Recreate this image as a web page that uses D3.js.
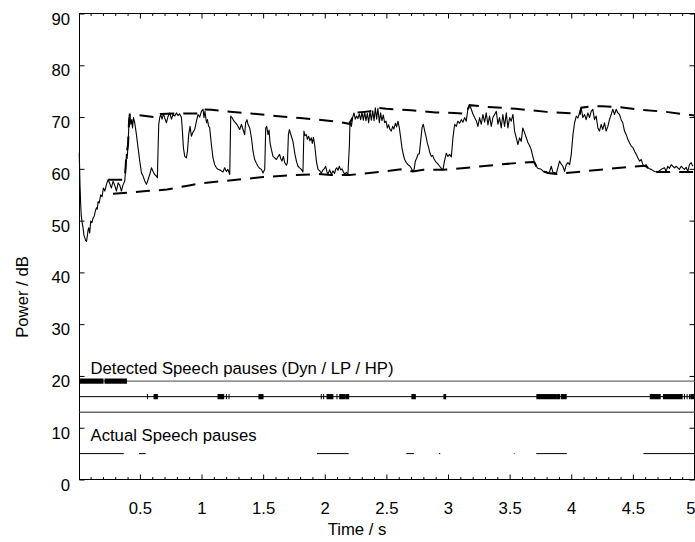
<!DOCTYPE html>
<html>
<head>
<meta charset="utf-8">
<script src="https://cdn.jsdelivr.net/npm/d3@7/dist/d3.min.js"></script>
<style>
  html, body { margin: 0; padding: 0; background: #fff; }
  svg { display: block; font-family: "Liberation Sans", Arial, Helvetica, sans-serif; }
</style>
</head>
<body>
<svg id="chart" width="695" height="542"></svg>
<script>
// Short-time signal power [time s, power dB]
const power = [
  [0.008,63.1],[0.014,57.0],[0.019,53.5],[0.024,51.0],[0.032,49.5],[0.039,48.6],[0.046,47.2],[0.053,46.7],
  [0.059,46.2],[0.067,46.0],[0.075,47.3],[0.080,48.2],[0.085,48.6],[0.093,47.6],[0.101,49.9],[0.111,49.6],
  [0.120,50.5],[0.130,50.9],[0.138,51.8],[0.148,52.5],[0.154,52.2],[0.161,53.7],[0.170,53.4],[0.182,55.0],
  [0.193,54.6],[0.204,56.3],[0.215,55.7],[0.229,57.0],[0.242,57.9],[0.255,57.2],[0.269,56.3],[0.282,57.6],
  [0.296,56.8],[0.310,55.7],[0.323,57.3],[0.337,56.8],[0.350,55.7],[0.363,56.9],[0.377,57.6],[0.383,59.5],
  [0.391,62.8],[0.397,62.0],[0.404,64.7],[0.412,69.2],[0.418,70.5],[0.426,68.6],[0.434,69.5],[0.440,67.9],
  [0.448,69.9],[0.458,68.9],[0.472,66.6],[0.485,64.1],[0.499,61.5],[0.513,59.2],[0.526,58.6],[0.539,57.7],
  [0.553,57.0],[0.566,57.9],[0.580,58.9],[0.594,60.2],[0.607,59.5],[0.620,58.9],[0.634,58.6],[0.642,58.3],
  [0.647,63.4],[0.653,68.6],[0.661,69.9],[0.669,70.5],[0.680,69.6],[0.691,70.6],[0.702,69.8],[0.715,68.9],
  [0.728,70.1],[0.742,70.8],[0.756,69.6],[0.769,70.5],[0.783,70.2],[0.796,70.8],[0.809,70.3],[0.823,70.6],
  [0.837,69.9],[0.845,67.3],[0.853,64.1],[0.864,62.4],[0.877,62.1],[0.886,63.4],[0.896,66.6],[0.907,68.2],
  [0.918,66.3],[0.931,67.1],[0.945,67.6],[0.959,69.2],[0.972,70.5],[0.985,70.0],[0.999,71.1],[1.012,71.5],
  [1.020,69.9],[1.028,71.1],[1.040,68.9],[1.048,69.5],[1.058,68.2],[1.066,68.0],[1.080,64.7],[1.093,62.1],
  [1.107,60.8],[1.121,60.2],[1.134,59.9],[1.156,59.7],[1.174,59.4],[1.188,60.2],[1.202,59.5],[1.214,59.9],
  [1.229,58.9],[1.237,70.2],[1.247,69.9],[1.261,69.3],[1.283,68.7],[1.296,68.2],[1.310,67.6],[1.324,68.6],
  [1.337,67.6],[1.350,66.6],[1.358,68.9],[1.369,69.5],[1.377,68.6],[1.391,67.9],[1.405,66.0],[1.418,63.4],
  [1.431,61.8],[1.445,61.1],[1.458,60.5],[1.472,60.1],[1.486,59.9],[1.499,59.2],[1.513,59.9],[1.521,67.9],
  [1.529,68.2],[1.540,66.6],[1.548,67.5],[1.556,65.0],[1.567,63.7],[1.580,62.4],[1.594,62.1],[1.607,61.8],
  [1.620,62.3],[1.634,62.8],[1.642,62.0],[1.653,61.5],[1.664,62.4],[1.675,61.2],[1.689,60.7],[1.697,61.2],
  [1.705,66.6],[1.713,67.6],[1.721,66.9],[1.729,66.3],[1.742,65.3],[1.756,63.1],[1.770,61.5],[1.783,60.5],
  [1.796,60.2],[1.810,59.9],[1.823,59.4],[1.831,67.3],[1.840,66.4],[1.851,66.6],[1.859,65.7],[1.869,66.3],
  [1.880,65.4],[1.891,66.0],[1.899,64.9],[1.908,66.1],[1.918,64.7],[1.932,61.5],[1.945,59.9],[1.959,59.6],
  [1.972,59.2],[1.986,59.8],[1.999,60.1],[2.007,60.5],[2.018,59.4],[2.026,59.0],[2.040,59.8],[2.054,58.9],
  [2.066,59.6],[2.080,59.1],[2.088,59.9],[2.097,60.2],[2.107,59.7],[2.118,60.5],[2.129,59.8],[2.140,60.0],
  [2.151,59.4],[2.161,59.0],[2.175,59.3],[2.188,58.9],[2.200,64.7],[2.205,69.2],[2.216,68.2],[2.226,69.9],
  [2.237,70.8],[2.248,69.6],[2.259,70.2],[2.269,69.7],[2.280,70.6],[2.291,69.5],[2.302,70.9],[2.313,69.4],
  [2.324,71.0],[2.334,69.3],[2.346,70.7],[2.356,68.9],[2.367,71.1],[2.378,69.4],[2.389,71.2],[2.400,69.3],
  [2.410,71.8],[2.421,69.6],[2.431,71.7],[2.443,68.9],[2.453,70.8],[2.464,69.3],[2.475,70.4],[2.486,68.9],
  [2.497,69.2],[2.508,67.9],[2.518,68.5],[2.529,67.6],[2.540,67.3],[2.551,68.2],[2.561,67.7],[2.573,68.8],
  [2.583,68.1],[2.594,69.2],[2.605,67.9],[2.616,66.0],[2.626,64.1],[2.637,62.8],[2.648,61.8],[2.662,61.2],
  [2.675,60.8],[2.689,60.6],[2.702,60.1],[2.716,59.5],[2.725,59.9],[2.735,61.5],[2.745,62.0],[2.756,62.8],
  [2.767,62.9],[2.778,65.3],[2.789,67.9],[2.800,68.6],[2.810,67.4],[2.821,66.3],[2.832,65.0],[2.843,64.1],
  [2.853,63.1],[2.865,62.4],[2.875,62.6],[2.887,61.9],[2.899,61.4],[2.916,61.0],[2.932,60.5],[2.946,60.1],
  [2.959,59.8],[2.972,61.6],[2.986,63.0],[2.999,62.4],[3.013,62.8],[3.027,62.3],[3.040,66.0],[3.054,68.6],
  [3.067,68.2],[3.080,69.2],[3.094,68.8],[3.108,69.5],[3.121,69.0],[3.135,69.9],[3.148,69.2],[3.161,71.5],
  [3.175,72.4],[3.189,71.5],[3.202,70.6],[3.216,69.9],[3.229,69.3],[3.243,68.2],[3.256,69.9],[3.270,68.6],
  [3.283,70.5],[3.297,69.0],[3.310,70.8],[3.324,68.5],[3.337,70.2],[3.351,68.2],[3.364,69.9],[3.378,70.5],
  [3.392,71.1],[3.405,68.6],[3.418,69.9],[3.432,67.9],[3.445,70.5],[3.459,68.2],[3.473,70.8],[3.486,67.9],
  [3.500,69.9],[3.513,69.2],[3.527,70.5],[3.540,67.3],[3.554,66.0],[3.567,64.7],[3.581,66.0],[3.594,65.3],
  [3.607,67.9],[3.621,67.0],[3.635,66.0],[3.648,65.1],[3.662,64.5],[3.675,63.7],[3.688,62.4],[3.702,61.2],
  [3.716,60.5],[3.729,60.1],[3.743,60.0],[3.756,59.9],[3.769,59.6],[3.783,59.4],[3.797,59.5],[3.810,59.2],
  [3.824,59.4],[3.838,60.5],[3.851,59.3],[3.865,59.3],[3.878,59.0],[3.891,60.2],[3.905,61.5],[3.919,60.9],
  [3.932,60.5],[3.946,59.5],[3.959,60.8],[3.973,61.2],[3.987,60.8],[4.000,62.8],[4.014,66.6],[4.027,68.9],
  [4.041,70.2],[4.054,69.8],[4.067,70.8],[4.081,71.8],[4.094,69.9],[4.108,70.5],[4.121,69.5],[4.135,70.8],
  [4.148,69.9],[4.162,71.1],[4.175,71.5],[4.189,69.5],[4.202,70.2],[4.216,67.9],[4.229,67.3],[4.243,68.6],
  [4.256,67.6],[4.270,68.9],[4.283,67.3],[4.297,68.2],[4.310,69.5],[4.324,70.5],[4.337,71.5],[4.351,70.5],
  [4.364,71.5],[4.378,70.8],[4.391,70.5],[4.405,69.5],[4.418,68.9],[4.432,67.3],[4.446,66.6],[4.459,65.7],
  [4.473,65.0],[4.487,64.4],[4.500,64.1],[4.514,63.4],[4.527,62.8],[4.541,62.1],[4.554,61.5],[4.568,61.8],
  [4.581,60.8],[4.595,60.5],[4.608,60.8],[4.622,60.2],[4.635,60.0],[4.649,59.9],[4.675,59.5],[4.702,59.4],
  [4.730,59.9],[4.757,60.2],[4.770,59.5],[4.783,60.5],[4.797,60.1],[4.811,60.8],[4.824,60.5],[4.838,60.2],
  [4.851,60.5],[4.865,60.2],[4.878,59.9],[4.892,60.5],[4.905,60.2],[4.919,59.9],[4.932,60.3],[4.946,59.5],
  [4.959,60.8],[4.973,61.2],[4.987,60.5]
];

// Tracked maximum (upper) and minimum (lower) power envelopes [time s, dB]
const upperEnvelope = [
  [0.242,57.9],[0.377,57.9],[0.391,62.8],[0.404,64.7],[0.412,69.2],[0.418,70.5],[0.47,70.4],[0.62,70.0],
  [0.661,70.0],[0.669,70.6],[0.83,70.7],[0.972,70.7],[0.999,71.1],[1.012,71.5],[1.08,71.4],[1.2,71.1],
  [1.4,70.7],[1.6,70.2],[1.8,69.8],[1.95,69.5],[2.1,69.1],[2.2,68.7],[2.226,69.9],[2.237,70.8],
  [2.324,71.0],[2.367,71.1],[2.41,71.8],[2.5,71.6],[2.7,71.3],[2.9,70.9],[3.05,70.8],[3.15,70.6],
  [3.161,71.5],[3.175,72.3],[3.3,72.0],[3.55,71.6],[3.8,71.0],[4.07,70.6],[4.081,71.8],[4.17,72.1],
  [4.25,72.1],[4.4,71.9],[4.57,71.4],[4.77,71.0],[5.0,70.3]
];
const lowerEnvelope = [
  [0.282,55.2],[0.4,55.4],[0.55,55.7],[0.72,56.0],[0.9,56.8],[1.0,57.2],[1.2,57.7],[1.5,58.4],
  [1.75,58.8],[1.95,59.0],[2.05,58.8],[2.2,58.8],[2.4,59.3],[2.62,59.9],[2.716,59.5],[2.8,59.8],
  [2.96,59.8],[3.2,60.3],[3.4,60.8],[3.6,61.2],[3.69,61.3],[3.702,61.2],[3.716,60.5],[3.729,60.1],
  [3.756,59.9],[3.783,59.4],[3.81,59.2],[3.878,59.0],[4.1,59.5],[4.3,60.0],[4.5,60.4],[4.6,60.6],
  [4.622,60.2],[4.649,59.9],[4.675,59.5],[4.702,59.4],[5.0,59.4]
];

// Detected pause intervals [start s, end s] per detector, and the reference pauses
const dynPauses = [[0.012,0.201],[0.217,0.391]];
const lpPauses = [
  [0.561,0.561],[0.615,0.642],[1.134,1.180],[1.202,1.202],[1.223,1.223],[1.466,1.499],
  [1.972,1.972],[1.991,1.991],[2.018,2.066],[2.099,2.099],[2.121,2.161],[2.170,2.194],
  [2.707,2.735],[2.967,2.981],[3.721,3.878],[3.883,3.905],[3.919,3.959],[4.641,4.722],
  [4.748,4.900],[4.919,4.919],[4.940,4.940],[4.960,4.960],[4.970,5.000]
];
const hpPauses = [];
const actualPauses = [
  [0.012,0.369],[0.493,0.547],[1.937,2.194],[2.662,2.723],[2.926,2.937],[3.534,3.540],
  [3.716,3.964],[4.586,5.000]
];

// Rows (dB level) on which the pause tracks are drawn
const rowDyn = 19, rowLP = 16, rowHP = 13, rowActual = 5;

const xTicks = [0.5, 1, 1.5, 2, 2.5, 3, 3.5, 4, 4.5, 5];
const xTickLabels = ["0.5", "1", "1.5", "2", "2.5", "3", "3.5", "4", "4.5", "5"];
const xMinorTicks = d3.range(1, 50).map(i => i / 10);
const yTicks = [0, 10, 20, 30, 40, 50, 60, 70, 80, 90];

const xLabel = "Time / s";
const yLabel = "Power / dB";
const detectedLabel = "Detected Speech pauses (Dyn / LP / HP)";
const actualLabel = "Actual Speech pauses";

// ---- drawing ----
const svg = d3.select("#chart");
const plotLeft = 79.5, plotRight = 694.5, plotTop = 13.5, plotBottom = 479.5;

const x = d3.scaleLinear().domain([0.01, 5.0]).range([plotLeft, plotRight]);
const y = d3.scaleLinear().domain([0, 90]).range([plotBottom, plotTop]);

const fontSize = "16.7px";
const minorOnly = xMinorTicks.filter(v => !xTicks.some(t => Math.abs(t - v) < 1e-9));

// axes: inward ticks on all four sides
const gBottom = svg.append("g").attr("transform", `translate(0,${plotBottom})`)
  .call(d3.axisBottom(x).tickValues(xTicks).tickSize(-5).tickFormat((d, i) => xTickLabels[i]));
svg.append("g").attr("transform", `translate(0,${plotBottom})`)
  .call(d3.axisBottom(x).tickValues(minorOnly).tickSize(-2.5).tickFormat(""));
svg.append("g").attr("transform", `translate(0,${plotTop})`)
  .call(d3.axisTop(x).tickValues(xTicks).tickSize(-5).tickFormat(""));
svg.append("g").attr("transform", `translate(0,${plotTop})`)
  .call(d3.axisTop(x).tickValues(minorOnly).tickSize(-2.5).tickFormat(""));
const gLeft = svg.append("g").attr("transform", `translate(${plotLeft},0)`)
  .call(d3.axisLeft(y).tickValues(yTicks).tickSize(-5));
svg.append("g").attr("transform", `translate(${plotRight},0)`)
  .call(d3.axisRight(y).tickValues(yTicks).tickSize(-5).tickFormat(""));

svg.selectAll(".domain").remove();
svg.selectAll(".tick line").attr("stroke", "#000").attr("stroke-width", 1);
svg.selectAll("g").attr("font-family", null).attr("font-size", null);

gBottom.selectAll(".tick text")
  .attr("y", 34.5).attr("dy", 0)
  .attr("dx", d => d === 5 ? -4 : 0)
  .attr("font-size", fontSize).attr("fill", "#000");
gLeft.selectAll(".tick text")
  .attr("x", -9.5).attr("dy", 0).attr("y", 10.5)
  .attr("font-size", fontSize).attr("fill", "#000");

// frame
svg.append("rect")
  .attr("x", plotLeft).attr("y", plotTop)
  .attr("width", plotRight - plotLeft).attr("height", plotBottom - plotTop)
  .attr("fill", "none").attr("stroke", "#000").attr("stroke-width", 1);

// pause track base lines
const rows = [
  { level: rowDyn, color: "#6a6a6a", width: 1.4 },
  { level: rowLP, color: "#000", width: 1 },
  { level: rowHP, color: "#6a6a6a", width: 1.4 }
];
svg.append("g").selectAll("line").data(rows).join("line")
  .attr("x1", plotLeft).attr("x2", plotRight)
  .attr("y1", d => y(d.level)).attr("y2", d => y(d.level))
  .attr("stroke", d => d.color).attr("stroke-width", d => d.width);

// detected pause marks
const detected = [
  { level: rowDyn, spans: dynPauses },
  { level: rowLP, spans: lpPauses },
  { level: rowHP, spans: hpPauses }
];
detected.forEach(row => {
  svg.append("g").selectAll("rect").data(row.spans).join("rect")
    .attr("x", d => x(d[0]) - 0.5)
    .attr("width", d => Math.max(1, x(d[1]) - x(d[0]) + 1))
    .attr("y", y(row.level) - 2.6)
    .attr("height", 5.2)
    .attr("fill", "#000");
});

// reference pauses
svg.append("g").selectAll("line").data(actualPauses).join("line")
  .attr("x1", d => x(d[0])).attr("x2", d => x(d[1]))
  .attr("y1", y(rowActual)).attr("y2", y(rowActual))
  .attr("stroke", "#000").attr("stroke-width", 1);

// envelopes
const line = d3.line().x(d => x(d[0])).y(d => y(d[1]));
[upperEnvelope, lowerEnvelope].forEach(env => {
  svg.append("path").datum(env)
    .attr("d", line)
    .attr("fill", "none").attr("stroke", "#000")
    .attr("stroke-width", 2).attr("stroke-dasharray", "14,9");
});

// power curve
svg.append("path").datum(power)
  .attr("d", line)
  .attr("fill", "none").attr("stroke", "#000")
  .attr("stroke-width", 1.1).attr("stroke-linejoin", "round");

// annotations
svg.append("text").attr("x", 90.5).attr("y", y(21.5) + 6)
  .attr("font-size", fontSize).text(detectedLabel);
svg.append("text").attr("x", 90.5).attr("y", y(8.5) + 6)
  .attr("font-size", fontSize).text(actualLabel);

svg.append("text")
  .attr("x", 357).attr("y", 535)
  .attr("text-anchor", "middle").attr("font-size", fontSize).text(xLabel);
svg.append("text")
  .attr("transform", "translate(28,297) rotate(-90)")
  .attr("text-anchor", "middle").attr("font-size", fontSize).text(yLabel);
</script>
</body>
</html>
